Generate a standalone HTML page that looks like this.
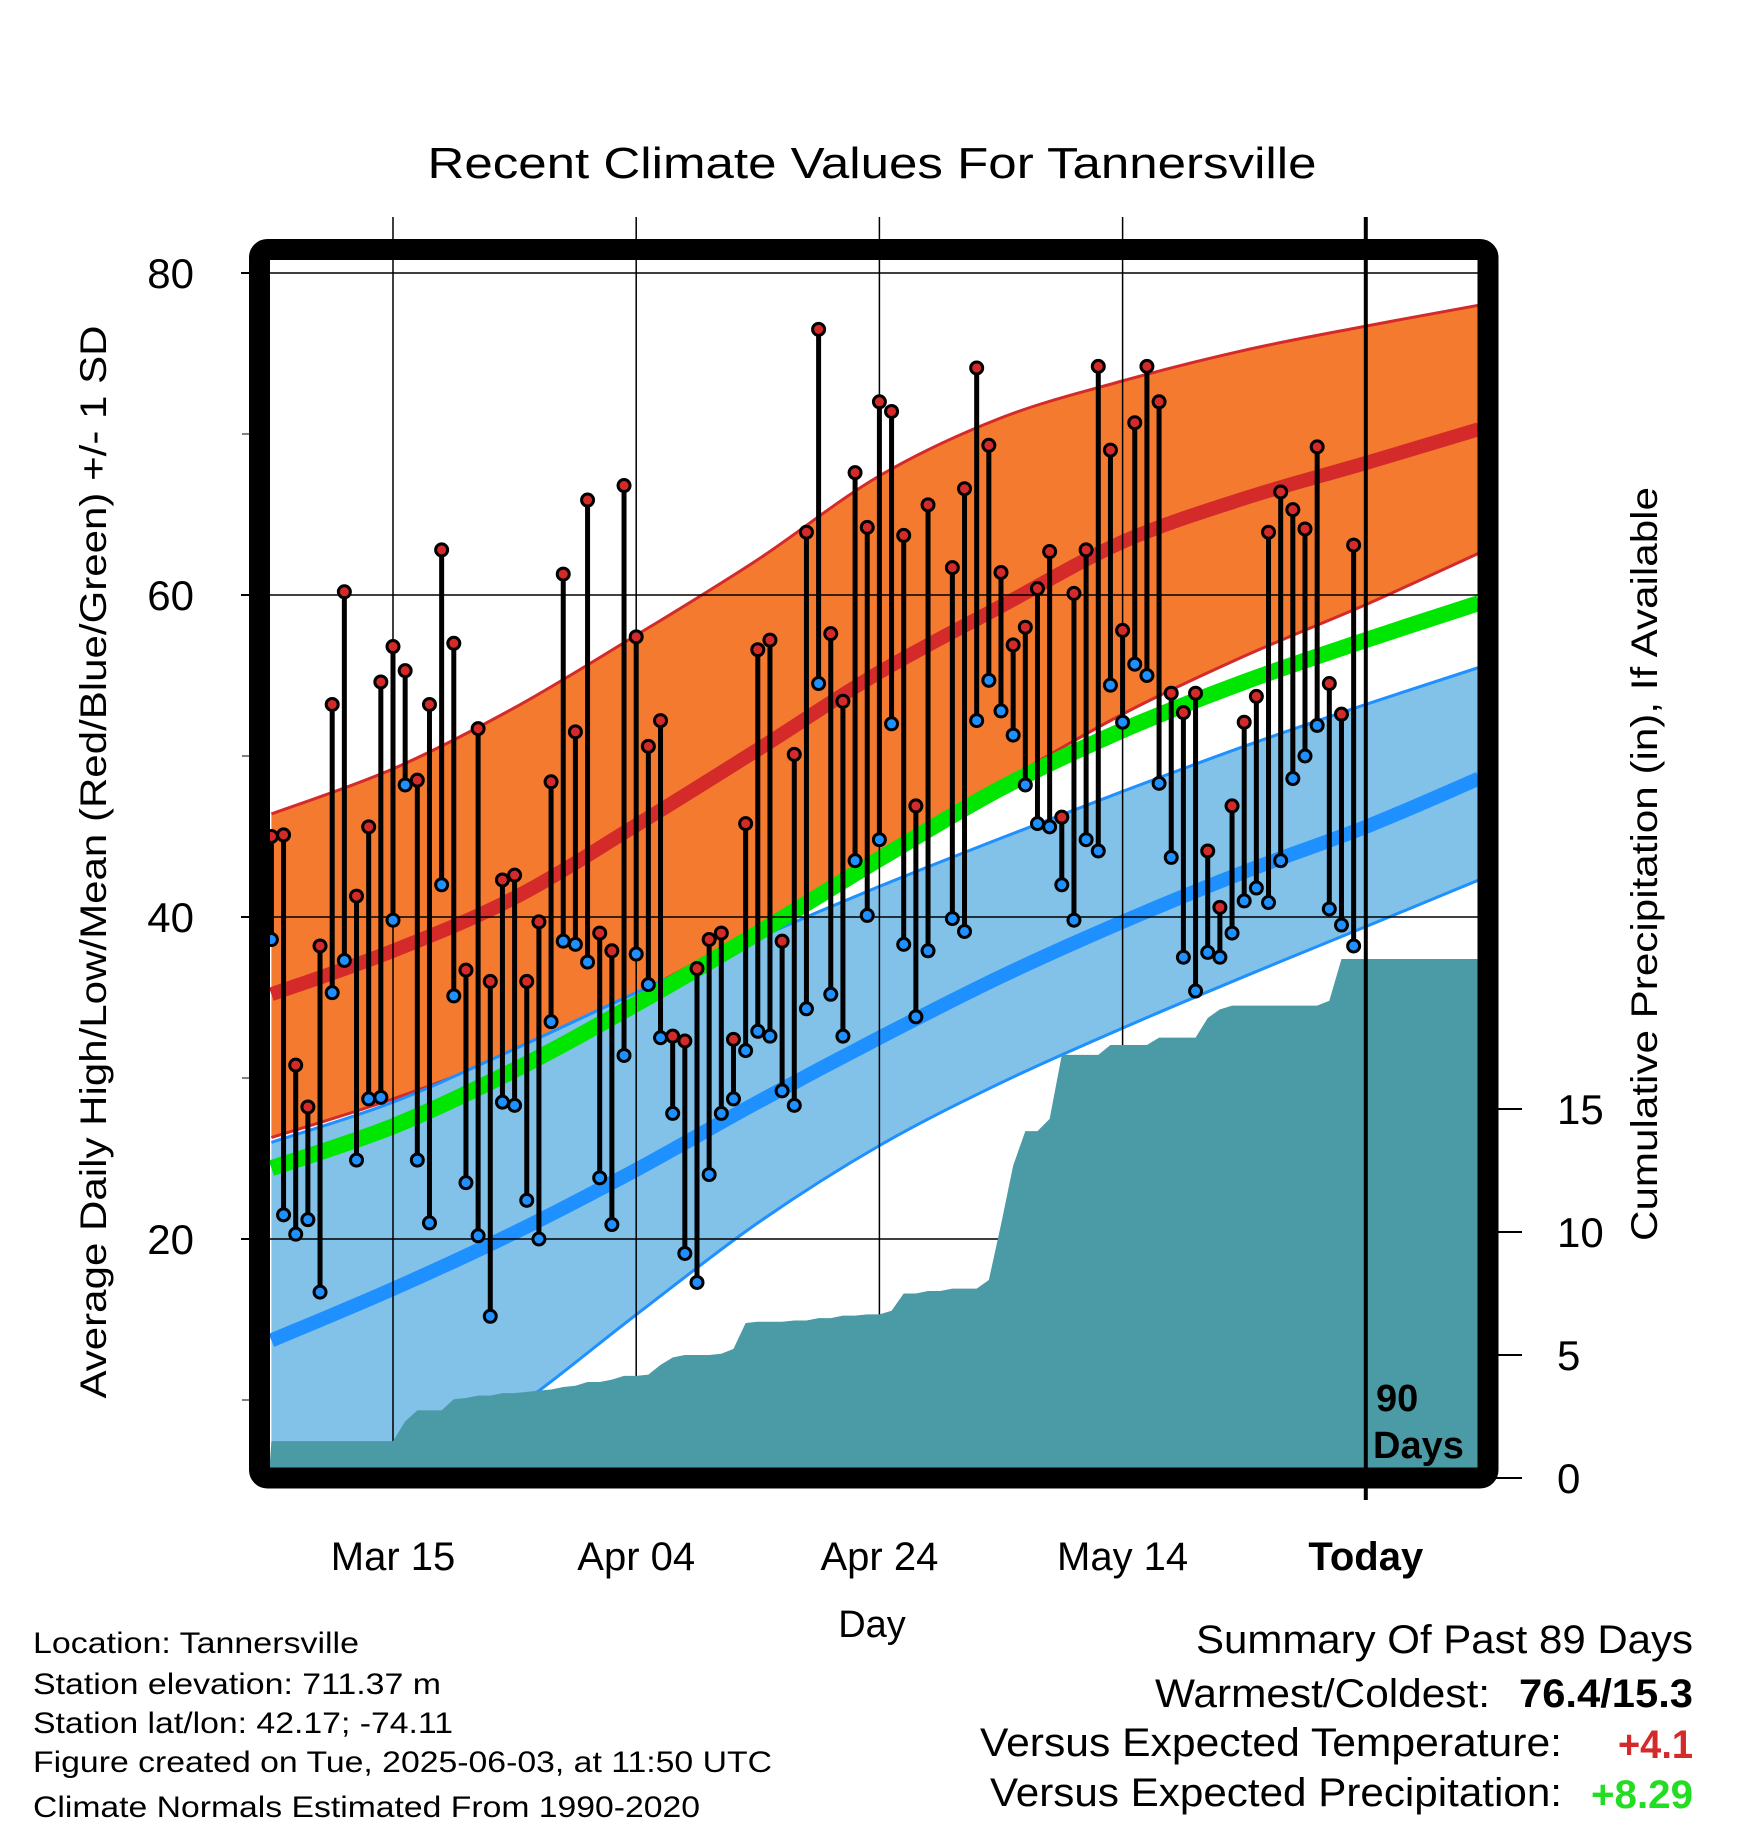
<!DOCTYPE html>
<html><head><meta charset="utf-8"><style>
html,body{margin:0;padding:0;background:#fff}
svg{display:block;font-family:"Liberation Sans",sans-serif}
</style></head><body>
<svg id="chart" width="1748" height="1828" viewBox="0 0 1748 1828" xmlns="http://www.w3.org/2000/svg">
<defs><clipPath id="plotclip"><rect x="270" y="260" width="1208" height="1208"/></clipPath></defs>
<g id="plot" clip-path="url(#plotclip)"></g>
<g id="over"></g>
<rect x="259.5" y="249.5" width="1228.5" height="1228.5" rx="8" fill="none" stroke="#000" stroke-width="21"/>
<text x="872" y="178" font-size="44" text-anchor="middle" textLength="889" lengthAdjust="spacingAndGlyphs">Recent Climate Values For Tannersville</text>
<text transform="translate(106,862) rotate(-90)" font-size="37" text-anchor="middle" textLength="1073" lengthAdjust="spacingAndGlyphs">Average Daily High/Low/Mean (Red/Blue/Green) +/- 1 SD</text>
<text transform="translate(1657,864) rotate(-90)" font-size="37" text-anchor="middle" textLength="754" lengthAdjust="spacingAndGlyphs">Cumulative Precipitation (in), If Available</text>
<text x="872" y="1637" font-size="38" text-anchor="middle">Day</text>
<text x="1376" y="1411" font-size="38" font-weight="bold">90</text>
<text x="1373" y="1458" font-size="38" font-weight="bold">Days</text>
<g font-size="30">
<text x="33" y="1653" textLength="326" lengthAdjust="spacingAndGlyphs">Location: Tannersville</text>
<text x="33" y="1694" textLength="408" lengthAdjust="spacingAndGlyphs">Station elevation: 711.37 m</text>
<text x="33" y="1733" textLength="420" lengthAdjust="spacingAndGlyphs">Station lat/lon: 42.17; -74.11</text>
<text x="33" y="1772" textLength="739" lengthAdjust="spacingAndGlyphs">Figure created on Tue, 2025-06-03, at 11:50 UTC</text>
<text x="33" y="1817" textLength="667" lengthAdjust="spacingAndGlyphs">Climate Normals Estimated From 1990-2020</text>
</g>
<g font-size="40">
<text x="1196" y="1653" textLength="497" lengthAdjust="spacingAndGlyphs">Summary Of Past 89 Days</text>
<text x="1155" y="1707" textLength="335" lengthAdjust="spacingAndGlyphs">Warmest/Coldest:</text>
<text x="1519" y="1707" font-weight="bold" textLength="174" lengthAdjust="spacingAndGlyphs">76.4/15.3</text>
<text x="980" y="1756" textLength="582" lengthAdjust="spacingAndGlyphs">Versus Expected Temperature:</text>
<text x="1618" y="1758" font-weight="bold" fill="#d42a2a" textLength="75" lengthAdjust="spacingAndGlyphs">+4.1</text>
<text x="990" y="1806" textLength="572" lengthAdjust="spacingAndGlyphs">Versus Expected Precipitation:</text>
<text x="1591" y="1808" font-weight="bold" fill="#22dd22" textLength="102" lengthAdjust="spacingAndGlyphs">+8.29</text>
</g>
</svg>
<script>
const highs=[45.0,45.1,30.8,28.2,38.2,53.2,60.2,41.3,45.6,54.6,56.8,55.3,48.5,53.2,62.8,57.0,36.7,51.7,36.0,42.3,42.6,36.0,39.7,48.4,61.3,51.5,65.9,39.0,37.9,66.8,57.4,50.6,52.2,32.6,32.3,36.8,38.6,39.0,32.4,45.8,56.6,57.2,38.5,50.1,63.9,76.5,57.6,53.4,67.6,64.2,72.0,71.4,63.7,46.9,65.6,null,61.7,66.6,74.1,69.3,61.4,56.9,58.0,60.4,62.7,46.2,60.1,62.8,74.2,69.0,57.8,70.7,74.2,72.0,53.9,52.7,53.9,44.1,40.6,46.9,52.1,53.7,63.9,66.4,65.3,64.1,69.2,54.5,52.6,63.1];
const lows=[38.6,21.5,20.3,21.2,16.7,35.3,37.3,24.9,28.7,28.8,39.8,48.2,24.9,21.0,42.0,35.1,23.5,20.2,15.2,28.5,28.3,22.4,20.0,33.5,38.5,38.3,37.2,23.8,20.9,31.4,37.7,35.8,32.5,27.8,19.1,17.3,24.0,27.8,28.7,31.7,32.9,32.6,29.2,28.3,34.3,54.5,35.2,32.6,43.5,40.1,44.8,52.0,38.3,33.8,37.9,null,39.9,39.1,52.2,54.7,52.8,51.3,48.2,45.8,45.6,42.0,39.8,44.8,44.1,54.4,52.1,55.7,55.0,48.3,43.7,37.5,35.4,37.8,37.5,39.0,41.0,41.8,40.9,43.5,48.6,50.0,51.9,40.5,39.5,38.2];
const precip=[1.5,1.5,1.5,1.5,1.5,1.5,1.5,1.5,1.5,1.5,1.5,2.3,2.75,2.75,2.75,3.2,3.25,3.35,3.35,3.45,3.45,3.5,3.55,3.6,3.7,3.75,3.9,3.9,4.0,4.15,4.15,4.2,4.6,4.9,5.0,5.0,5.0,5.05,5.25,6.3,6.35,6.35,6.35,6.4,6.4,6.5,6.5,6.6,6.6,6.65,6.65,6.8,7.5,7.5,7.6,7.6,7.7,7.7,7.7,8.05,10.3,12.7,14.1,14.1,14.6,17.2,17.2,17.2,17.2,17.6,17.6,17.6,17.6,17.9,17.9,17.9,17.9,18.7,19.05,19.2,19.2,19.2,19.2,19.2,19.2,19.2,19.2,19.4,21.1,21.1];
const normDays=[0,10,20,30,40,50,60,70,80,90,99.3];
const hiUpper=[46.4,49.2,53.0,57.5,62.2,67.4,71.0,73.3,75.2,76.7,78.0];
const hiMean=[35.2,37.9,41.2,45.7,50.4,55.2,59.3,63.3,66.0,68.2,70.3];
const hiLower=[26.3,28.7,31.6,35.2,39.3,43.6,48.3,52.6,56.2,59.4,62.6];
const avgMean=[24.4,27.0,30.5,34.6,39.0,43.6,48.0,51.6,54.6,57.2,59.5];
const loUpper=[26.0,28.5,31.8,35.3,38.7,41.9,44.9,47.8,50.6,53.2,55.5];
const loMean=[13.7,16.9,20.4,24.3,28.5,32.5,36.3,39.7,42.8,45.6,48.6];
const loLower=[1.5,5.0,9.5,15.3,21.0,25.8,29.7,33.1,36.3,39.4,42.3];
const xTickDays=[10,30,50,70,90];
const xTickLabels=["Mar 15","Apr 04","Apr 24","May 14","Today"];
const yTicks=[20,40,60,80];
const yMinor=[10,30,50,70];
const pTicks=[0,5,10,15];

const NS="http://www.w3.org/2000/svg";
const xs=i=>271.4+12.16*i;
const yT=t=>273+(80-t)*16.1;
const yP=p=>1478-p*24.6;
const plot=document.getElementById('plot');
const over=document.getElementById('over');
function mk(tag,attrs,parent){const e=document.createElementNS(NS,tag);for(const k in attrs)e.setAttribute(k,attrs[k]);parent.appendChild(e);return e;}
function pts(days,vals){return days.map((d,j)=>[xs(d),yT(vals[j])]);}
function smooth(p){let s=`M${p[0][0]},${p[0][1]}`;for(let i=0;i<p.length-1;i++){const p0=p[i-1]||p[i],p1=p[i],p2=p[i+1],p3=p[i+2]||p2;s+=` C${p1[0]+(p2[0]-p0[0])/6},${p1[1]+(p2[1]-p0[1])/6} ${p2[0]-(p3[0]-p1[0])/6},${p2[1]-(p3[1]-p1[1])/6} ${p2[0]},${p2[1]}`;}return s;}
function band(up,lo,fill,edge,name){
  const a=pts(normDays,up),b=pts(normDays,lo).reverse();
  const d=smooth(a)+' L'+smooth(b).slice(1)+' Z';
  let e=mk('path',{d:d,fill:fill},plot);
  
  
  e=mk('path',{d:smooth(a),fill:'none',stroke:edge,'stroke-width':3},plot);
  
  
  e=mk('path',{d:smooth(pts(normDays,lo)),fill:'none',stroke:edge,'stroke-width':3},plot);
  
  
}
function line(vals,col,w,name){
  const e=mk('path',{d:smooth(pts(normDays,vals)),fill:'none',stroke:col,'stroke-width':w},plot);
  
  
}
band(hiUpper,hiLower,'#f47a30','#d42a2a','high-sd-band');
line(hiMean,'#d42a2a',14,'mean-high-line');
band(loUpper,loLower,'#82c1e8','#1e90ff','low-sd-band');
line(loMean,'#1e90ff',14,'mean-low-line');
line(avgMean,'#00e600',16,'mean-avg-line');
yTicks.forEach(t=>{const e=mk('line',{x1:270,x2:1478,y1:yT(t),y2:yT(t),stroke:'#000','stroke-width':1.5},plot);

});
xTickDays.slice(0,4).forEach(d=>{const e=mk('line',{x1:xs(d),x2:xs(d),y1:260,y2:1468,stroke:'#000','stroke-width':1.5},plot);

});
let pd=`M${xs(0)-2},1470`;precip.forEach((p,i)=>{pd+=` L${xs(i)},${yP(p)}`;});
pd+=` L1480,${yP(precip[precip.length-1])} L1480,1470 Z`;
let pa=mk('path',{d:pd,fill:'#4a9ba5'},plot);


highs.forEach((h,i)=>{const l=lows[i];if(h==null||l==null)return;
  const s=mk('line',{x1:xs(i),x2:xs(i),y1:yT(h),y2:yT(l),stroke:'#000','stroke-width':5},plot);
  
  
});
highs.forEach((h,i)=>{const l=lows[i];if(h==null||l==null)return;
  const a=mk('circle',{cx:xs(i),cy:yT(h),r:6,fill:'#d42a2a',stroke:'#000','stroke-width':3},plot);
  
  
  const b=mk('circle',{cx:xs(i),cy:yT(l),r:6,fill:'#1e90ff',stroke:'#000','stroke-width':3},plot);
  
  
});
let tl=mk('line',{x1:xs(90),x2:xs(90),y1:217,y2:1500,stroke:'#000','stroke-width':4},over);


xTickDays.forEach((d,j)=>{
  const t=mk('line',{x1:xs(d),x2:xs(d),y1:217,y2:250,stroke:'#000','stroke-width':1.5},over);
  
  
  const tx=mk('text',{x:xs(d),y:1570,'font-size':40,'text-anchor':'middle'},over);
  if(j===4)tx.setAttribute('font-weight','bold');
  tx.textContent=xTickLabels[j];
  
  
});
yTicks.forEach(t=>{
  const e=mk('line',{x1:241,x2:262,y1:yT(t),y2:yT(t),stroke:'#000','stroke-width':2},over);
  
  
  const tx=mk('text',{x:194,y:yT(t)+15,'font-size':42,'text-anchor':'end'},over);
  tx.textContent=t;
  
  
});
yMinor.forEach(t=>{
  const e=mk('line',{x1:242,x2:262,y1:yT(t),y2:yT(t),stroke:'#000','stroke-width':1},over);
  
  
});
pTicks.forEach(p=>{
  const e=mk('line',{x1:1496,x2:1522,y1:yP(p),y2:yP(p),stroke:'#000','stroke-width':2},over);
  
  
  const tx=mk('text',{x:1557,y:yP(p)+15,'font-size':42},over);
  tx.textContent=p;
  
  
});
</script>
</body></html>
